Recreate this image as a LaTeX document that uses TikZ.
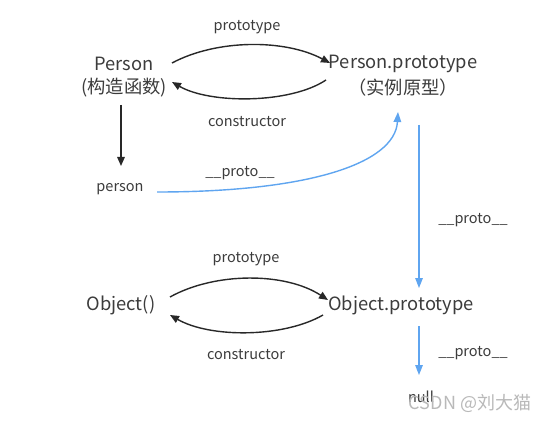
\documentclass[tikz,border=0pt]{standalone}
\usepackage{fontspec}
\setmainfont{Noto Sans CJK SC}
\usetikzlibrary{arrows.meta,calc}
\definecolor{txt}{RGB}{60,60,60}
\definecolor{ink}{RGB}{40,40,40}
\definecolor{lblue}{RGB}{95,165,240}
\tikzset{
  big/.style={text=txt, font=\fontsize{18.3}{21}\selectfont, inner sep=1pt},
  lab/.style={text=txt, font=\fontsize{14.5}{17}\selectfont, inner sep=1pt},
  darr/.style={draw=ink, line width=1.4pt, -{Triangle[length=9pt,width=7.5pt]}},
  barr/.style={draw=lblue, line width=1.4pt, -{Triangle[length=10pt,width=7.5pt]}},
  wm/.style={text=gray!55, font=\fontsize{18}{21}\selectfont, inner sep=0pt}
}
\begin{document}
\begin{tikzpicture}[x=1pt,y=-1pt]
\useasboundingbox[fill=white] (0,0) rectangle (554,422);
% upper block
\node[big] (P) at (124,64) {Person};
\node[big] (Pc) at (124,88) {(构造函数)};
\node[big] (PP) at (403,64) {Person.prototype};
\node[big] (PPc) at (403,88) {（实例原型）};
\node[lab] (l1) at (247,27) {prototype};
\node[lab] (l2) at (247,122) {constructor};
\node[lab] (pe) at (120,189) {person};
\node[lab] (l3) at (240,173) {\_\_proto\_\_};
\node[lab] (l4) at (473,220) {\_\_proto\_\_};
% lower block
\node[big] (O) at (121,305) {Object()};
\node[big] (OP) at (401,305) {Object.prototype};
\node[lab] (l5) at (246,259) {prototype};
\node[lab] (l6) at (246,355) {constructor};
\node[lab] (l7) at (473,353) {\_\_proto\_\_};
\node[lab] (nl) at (421,397) {null};
\node[wm] (w) at (470,403) {CSDN @刘大猫};
% connectors upper
\draw[darr] ($(P)+(48,-1)$) .. controls +(45,-24) and +(-45,-24) .. ($(PP)+(-73,-1)$);
\draw[darr] ($(PPc)+(-77,-8)$) .. controls +(-36,24) and +(38,22) .. ($(Pc)+(48,-6)$);
\draw[darr] ($(Pc)+(-3,17)$) -- ($(pe)+(1,-23)$);
\draw[barr] ($(pe)+(37,3)$) .. controls +(150,0) and +(-3,52) .. ($(PPc)+(-5,24)$);
\draw[barr] ($(PPc)+(16,37)$) -- ($(OP)+(18,-17)$);
% connectors lower
\draw[darr] ($(O)+(49,-8)$) .. controls +(45,-25) and +(-43,-28) .. ($(OP)+(-73,-5)$);
\draw[darr] ($(OP)+(-78,10)$) .. controls +(-40,23) and +(40,23) .. ($(O)+(49,10)$);
\draw[barr] ($(OP)+(18,21)$) -- ($(OP)+(18,70)$);
\end{tikzpicture}
\end{document}
